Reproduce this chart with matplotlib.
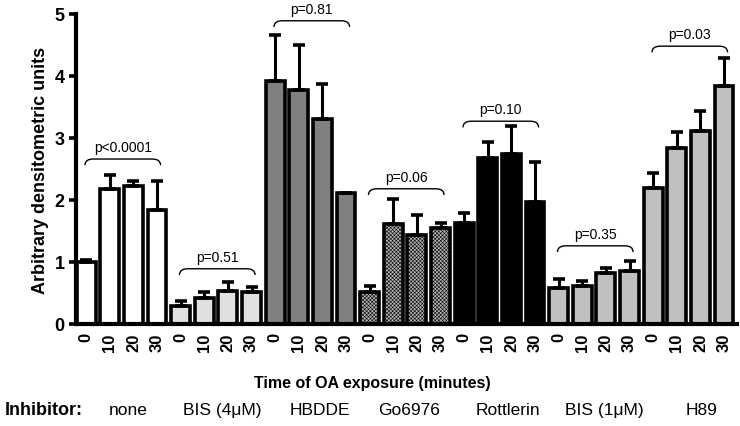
import numpy as np
from matplotlib import pyplot as plt
from matplotlib.path import Path
from matplotlib.patches import PathPatch

plt.rcParams['font.family'] = ['Liberation Sans', 'DejaVu Sans']
plt.rcParams['hatch.linewidth'] = 0.4

inhibitors = ['none', 'BIS (4\u03bcM)', 'HBDDE', 'Go6976', 'Rottlerin', 'BIS (1\u03bcM)', 'H89']
times = ['0', '10', '20', '30']

means = [
    [1.00, 2.17, 2.22, 1.83],
    [0.29, 0.42, 0.53, 0.51],
    [3.92, 3.78, 3.31, 2.12],
    [0.52, 1.61, 1.44, 1.55],
    [1.63, 2.67, 2.74, 1.96],
    [0.58, 0.61, 0.82, 0.85],
    [2.20, 2.84, 3.12, 3.83],
]
errors = [
    [0.03, 0.24, 0.08, 0.48],
    [0.08, 0.10, 0.15, 0.08],
    [0.74, 0.72, 0.56, 0.00],
    [0.10, 0.41, 0.31, 0.08],
    [0.16, 0.27, 0.46, 0.65],
    [0.14, 0.08, 0.09, 0.16],
    [0.23, 0.26, 0.31, 0.46],
]
p_labels = ['p<0.0001', 'p=0.51', 'p=0.81', 'p=0.06', 'p=0.10', 'p=0.35', 'p=0.03']
bracket_y = [2.66, 0.89, 4.89, 2.18, 3.27, 1.26, 4.48]

face = ['white', '#e0e0e0', '#808080', '#b4b4b4', 'black', '#c0c0c0', '#c0c0c0']
hatch = [None, None, None, 'xxxxxxxxx', None, None, None]

fig = plt.figure(figsize=(7.4, 4.27), dpi=100)
ax = fig.add_axes([0.103, 0.239, 0.893, 0.726])

for g in range(len(inhibitors)):
    x = np.arange(4) + g * 4
    ax.bar(x, means[g], width=0.8, color=face[g], edgecolor='black',
           linewidth=2.6, hatch=hatch[g], zorder=2)
    err = np.array(errors[g])
    ax.errorbar(x, means[g], yerr=[np.zeros(4), err], fmt='none', ecolor='black',
                elinewidth=2.2, capsize=4.5, capthick=2.6, zorder=3)

    # bracket with curled ends
    x0, x1 = x[0] - 0.05, x[-1] + 0.15
    y = bracket_y[g]
    h, w = 0.1, 0.35
    verts = [(x0, y - h), (x0, y), (x0 + w, y), (x1 - w, y), (x1, y), (x1, y - h)]
    codes = [Path.MOVETO, Path.CURVE3, Path.CURVE3, Path.LINETO, Path.CURVE3, Path.CURVE3]
    ax.add_patch(PathPatch(Path(verts, codes), fill=False, lw=1.0, color='black', zorder=4))
    ax.text((x0 + x1) / 2, y + 0.08, p_labels[g], ha='center', va='bottom', fontsize=10)

ax.set_xlim(-0.42, 27.55)
ax.set_ylim(0, 5)
ax.set_yticks(range(6))
ax.tick_params(axis='y', width=2.6, length=5, labelsize=13)
for lab in ax.get_yticklabels():
    lab.set_fontweight('bold')

ax.set_xticks(np.arange(28))
ax.set_xticklabels(times * 7, rotation=90, fontsize=12, fontweight='bold')
ax.tick_params(axis='x', length=0, pad=6)

ax.spines['top'].set_visible(False)
ax.spines['right'].set_visible(False)
ax.spines['left'].set_linewidth(3)
ax.spines['bottom'].set_linewidth(3)

ax.set_ylabel('Arbitrary densitometric units', fontsize=13, fontweight='bold', labelpad=4)

fig.text(372 / 740, 1 - 384 / 427, 'Time of OA exposure (minutes)', ha='center', va='center',
         fontsize=11.5, fontweight='bold')
fig.text(5 / 740, 1 - 411 / 427, 'Inhibitor:', ha='left', va='center', fontsize=13, fontweight='bold')
name_x = [128, 222, 320, 409, 508, 604, 702]
for nx, name in zip(name_x, inhibitors):
    fig.text(nx / 740, 1 - 411 / 427, name, ha='center', va='center', fontsize=12.5)

fig.savefig('out.png', dpi=100)
